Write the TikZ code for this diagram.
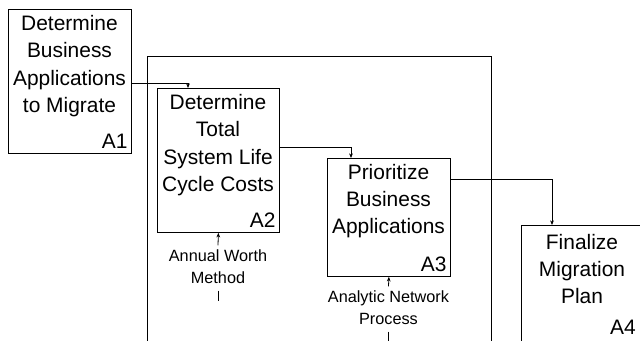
\documentclass[tikz,border=0pt]{standalone}
\usepackage{fontspec}
\setmainfont{Liberation Sans}
\usetikzlibrary{arrows.meta,calc}
\begin{document}
\begin{tikzpicture}[x=0.75pt,y=-0.75pt,
  box/.style={draw, line width=0.6pt, inner sep=0pt, anchor=north west},
  boxtext/.style={align=center, inner sep=0pt, font=\fontsize{15.7}{20.4}\selectfont},
  idlabel/.style={anchor=south east, inner xsep=3pt, inner ysep=4pt, font=\fontsize{15.7}{18}\selectfont},
  mech/.style={align=center, inner sep=3pt, font=\fontsize{12.2}{16.5}\selectfont},
  line/.style={line width=0.6pt},
  arr/.style={line width=0.6pt, -{Stealth[length=3.5pt,width=2.8pt]}}]
\useasboundingbox (0,0) rectangle (640,340);
\clip (0,0) rectangle (640,340);
% outer frame
\draw[line] (147,350) -- (147,56) -- (491,56) -- (491,350);
% boxes
\node[box, minimum width=92.25pt, minimum height=108pt] (a1) at (8,9) {};
\node[box, minimum width=91.5pt, minimum height=108pt] (a2) at (157,88) {};
\node[box, minimum width=92.25pt, minimum height=88.5pt] (a3) at (327,158) {};
\node[box, minimum width=93pt, minimum height=97.5pt] (a4) at (521,225) {};
% box texts
\node[boxtext] (t1) at (69.5,66) {Determine\\Business\\Applications\\to Migrate};
\node[boxtext] (t2) at (218,145) {Determine\\Total\\System Life\\Cycle Costs};
\node[boxtext] (t3) at (388.5,201) {Prioritize\\Business\\Applications};
\node[boxtext] (t4) at (582,269) {Finalize\\Migration\\Plan};
\node[idlabel] (n1) at (a1.south east) {A1};
\node[idlabel] (n2) at (a2.south east) {A2};
\node[idlabel] (n3) at (a3.south east) {A3};
\node[idlabel] (n4) at (640,340) {A4};
% mechanism labels
\node[mech] (m2) at (218,266.5) {Annual Worth\\Method};
\node[mech] (m3) at (388.5,307.5) {Analytic Network\\Process};
\draw[arr] (m2.north) -- (a2.south);
\draw[arr] (m3.north) -- (a3.south);
\draw[line] ($(m2.south)+(0,3)$) -- ++(0,10);
\draw[line] ($(m3.south)+(0,3)$) -- ++(0,12);
% flow connectors
\draw[arr] ($(a1.north east)+(0,74)$) -| ($(a2.north west)+(31,0)$);
\draw[arr] ($(a2.north east)+(0,59)$) -| ($(a3.north west)+(24,0)$);
\draw[arr] ($(a3.north east)+(0,21)$) -| ($(a4.north west)+(31,0)$);
\end{tikzpicture}
\end{document}
